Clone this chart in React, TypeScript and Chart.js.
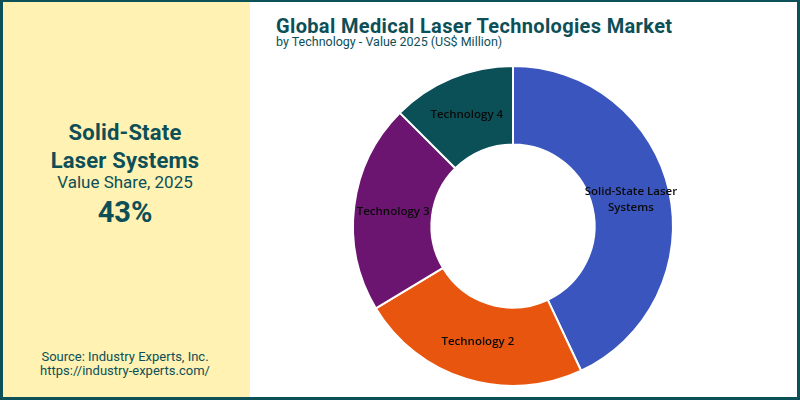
import React, { useEffect, useRef } from "react";
import { Chart, registerables } from "chart.js";

Chart.register(...registerables);

const categories = ["Solid-State Laser Systems", "Technology 2", "Technology 3", "Technology 4"];
const labelLines = [["Solid-State Laser", "Systems"], ["Technology 2"], ["Technology 3"], ["Technology 4"]];
const shares = [43.0, 23.4, 21.1, 12.5];
const sliceColors = ["#3A55BE", "#E8550F", "#6C1570", "#0B4F57"];

const TEAL = "#0D4F57";

const sliceLabelPlugin = {
  id: "sliceLabels",
  afterDatasetsDraw(chart: any) {
    const ctx = chart.ctx;
    const meta = chart.getDatasetMeta(0);
    ctx.save();
    ctx.font = "600 11.5px 'Open Sans', sans-serif";
    ctx.fillStyle = "#0a0a0a";
    ctx.textAlign = "center";
    ctx.textBaseline = "middle";
    meta.data.forEach((arc: any, i: number) => {
      const p = arc.tooltipPosition();
      const lines = labelLines[i];
      const lh = 16;
      const y0 = p.y - ((lines.length - 1) * lh) / 2;
      lines.forEach((t, j) => ctx.fillText(t, p.x, y0 + j * lh));
    });
    ctx.restore();
  },
};

export default function App() {
  const ref = useRef<HTMLCanvasElement>(null);
  useEffect(() => {
    if (!ref.current) return;
    const chart = new Chart(ref.current, {
      type: "doughnut",
      data: {
        labels: categories,
        datasets: [
          {
            data: shares,
            backgroundColor: sliceColors,
            borderColor: "#ffffff",
            borderWidth: 2,
          },
        ],
      },
      options: {
        animation: false,
        responsive: false,
        maintainAspectRatio: false,
        cutout: "51%",
        layout: { padding: 20 },
        plugins: {
          legend: { display: false },
          tooltip: { enabled: false },
        },
      },
      plugins: [sliceLabelPlugin],
    });
    return () => chart.destroy();
  }, []);

  const font = "Roboto, 'Noto Sans', sans-serif";
  const line = (top: number, size: number, weight: number, text: string, ls = 0) => (
    <div
      style={{
        position: "absolute",
        left: 0,
        width: 250,
        top,
        textAlign: "center",
        fontSize: size,
        lineHeight: 1,
        fontWeight: weight,
        letterSpacing: ls,
        color: TEAL,
        whiteSpace: "nowrap",
      }}
    >
      {text}
    </div>
  );

  return (
    <div
      style={{
        position: "fixed",
        left: 0,
        top: 0,
        width: 800,
        height: 400,
        background: "#ffffff",
        fontFamily: font,
        overflow: "hidden",
      }}
    >
      <div style={{ position: "absolute", left: 0, top: 0, width: 250, height: 400, background: "#FFF2B3" }} />
      {line(122, 22, 700, "Solid-State", 0.2)}
      {line(149.5, 22, 700, "Laser Systems", 0.2)}
      {line(174, 17, 400, "Value Share, 2025")}
      {line(197.5, 29, 700, "43%")}
      {line(350, 13, 400, "Source: Industry Experts, Inc.")}
      {line(364, 13, 400, "https://industry-experts.com/")}

      <div
        style={{
          position: "absolute",
          left: 276,
          top: 15.5,
          fontSize: 20,
          lineHeight: 1,
          fontWeight: 700,
          letterSpacing: 0.35,
          color: TEAL,
          whiteSpace: "nowrap",
        }}
      >
        Global Medical Laser Technologies Market
      </div>
      <div
        style={{
          position: "absolute",
          left: 276,
          top: 36,
          fontSize: 12.5,
          lineHeight: 1,
          fontWeight: 400,
          color: TEAL,
          whiteSpace: "nowrap",
        }}
      >
        by Technology - Value 2025 (US$ Million)
      </div>

      <canvas
        ref={ref}
        width={362}
        height={362}
        style={{ position: "absolute", left: 332, top: 45, width: 362, height: 362 }}
      />

      <div
        style={{
          position: "absolute",
          left: 0,
          top: 0,
          width: 800,
          height: 400,
          boxSizing: "border-box",
          borderStyle: "solid",
          borderColor: "#0B5157",
          borderWidth: "2px 3px 3px 3px",
          pointerEvents: "none",
        }}
      />
    </div>
  );
}
